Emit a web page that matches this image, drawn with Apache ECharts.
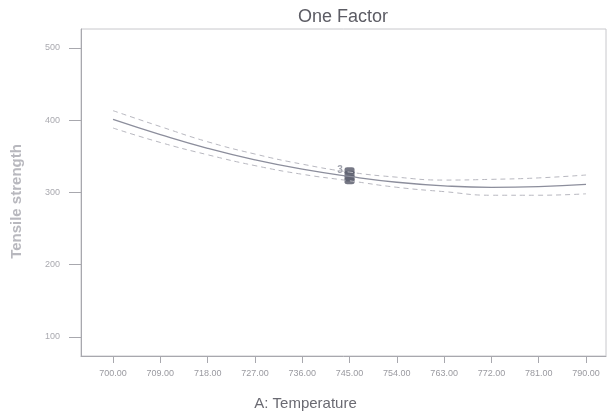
<!DOCTYPE html>
<html>
<head>
<meta charset="utf-8">
<script src="https://cdn.jsdelivr.net/npm/echarts@6/dist/echarts.min.js"></script>
<style>html,body{margin:0;padding:0;background:#fff;}#c{width:610px;height:415px;}</style>
</head>
<body>
<div id="c"></div>
<script>
var temps = [700, 709, 718, 727, 736, 745, 754, 763, 772, 781, 790];
var fitValues = [401, 380, 361, 345, 332, 322, 314, 309, 307, 308, 311];
var upperCI = [413, 391, 370, 353, 339, 328, 321, 317, 318, 320, 324];
var lowerCI = [389, 369, 352, 337, 325, 316, 307, 301, 296, 296, 298];
var designX = [745, 745, 745, 745];
var designY = [330, 325, 320, 316];
var yTicks = [100, 200, 300, 400, 500];

function pairs(xs, ys) { return xs.map(function (x, i) { return [x, ys[i]]; }); }

var chart = echarts.init(document.getElementById('c'), null, {renderer: 'canvas'});
chart.setOption({
  backgroundColor: '#fff',
  animation: false,
  title: {
    text: 'One Factor', left: 338, top: 3, textAlign: 'center',
    textStyle: {fontFamily: 'Arial, Liberation Sans, sans-serif', fontSize: 18, fontWeight: 'normal', color: '#5c5c64'}
  },
  grid: {left: 81, top: 29, right: 4, bottom: 59, show: true, borderColor: '#c8c8cc', borderWidth: 1,
    outerBoundsMode: 'none', containLabel: false},
  xAxis: {
    type: 'value', min: 693.9, max: 793.8,
    name: 'A: Temperature', nameLocation: 'middle', nameGap: 40,
    nameTextStyle: {fontFamily: 'Arial, Liberation Sans, sans-serif', fontSize: 15, color: '#6a6a72',
      padding: [0, 76, 0, 0]},
    axisLine: {show: true, lineStyle: {color: '#a8a8ae'}},
    axisTick: {show: true, length: 7, customValues: temps, lineStyle: {color: '#a8a8ae'}},
    axisLabel: {customValues: temps, fontSize: 9, color: '#9a9aa0', margin: 13,
      fontFamily: 'Arial, Liberation Sans, sans-serif',
      formatter: function (v) { return v.toFixed(2); }},
    splitLine: {show: false}
  },
  yAxis: {
    type: 'value', min: 73.6, max: 526,
    name: 'Tensile strength', nameLocation: 'middle', nameGap: 57, nameRotate: 90,
    nameTextStyle: {fontFamily: 'Arial, Liberation Sans, sans-serif', fontSize: 15, fontWeight: 'bold', color: '#b8b8be',
      padding: [0, 18, 0, 0]},
    axisLine: {show: true, lineStyle: {color: '#a8a8ae'}},
    axisTick: {show: true, length: 12, customValues: yTicks, lineStyle: {color: '#a8a8ae'}},
    axisLabel: {customValues: yTicks, fontSize: 9, color: '#aaaab0', margin: 21,
      fontFamily: 'Arial, Liberation Sans, sans-serif'},
    splitLine: {show: false}
  },
  series: [
    {type: 'line', data: pairs(temps, upperCI), smooth: true, symbol: 'none',
      lineStyle: {color: '#b8b8c0', width: 1, type: [5, 4]}},
    {type: 'line', data: pairs(temps, lowerCI), smooth: true, symbol: 'none',
      lineStyle: {color: '#b8b8c0', width: 1, type: [5, 4]}},
    {type: 'line', data: pairs(temps, fitValues), smooth: true, symbol: 'none',
      lineStyle: {color: '#8c8e9c', width: 1.3}},
    {type: 'scatter', data: pairs(designX, designY), symbol: 'roundRect', symbolSize: [10, 7],
      itemStyle: {color: '#5e6070', opacity: 0.85},
      label: {show: false}},
    {type: 'scatter', data: [[743.2, 330]], symbol: 'circle', symbolSize: 1,
      itemStyle: {color: 'rgba(0,0,0,0)'},
      label: {show: true, formatter: '3', position: 'inside', fontSize: 10, fontWeight: 'bold', color: '#8a8c98'}}
  ]
});
</script>
</body>
</html>
